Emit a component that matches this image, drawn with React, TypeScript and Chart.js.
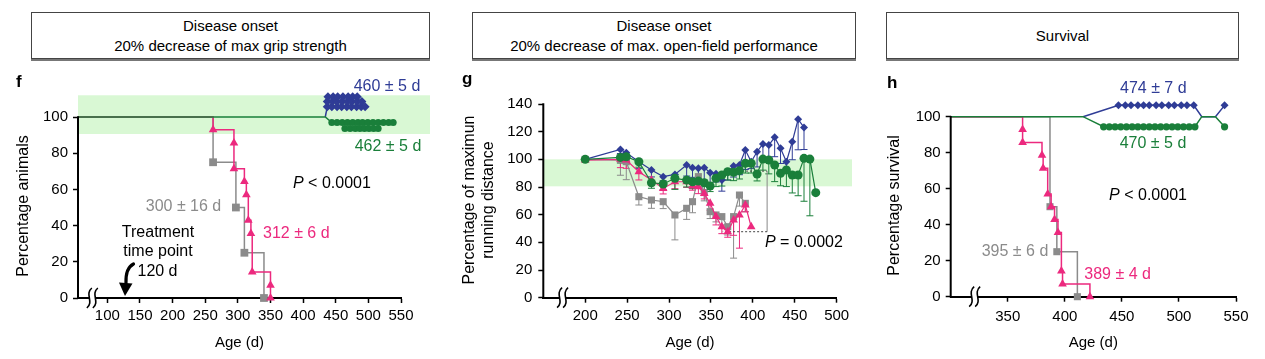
import React, { useEffect, useRef } from 'react';
import { Chart, registerables } from 'chart.js';

Chart.register(...registerables);

const FONT = "'Liberation Sans', Arial, Helvetica, sans-serif";
Chart.defaults.font.family = FONT;
Chart.defaults.font.size = 15;
Chart.defaults.color = '#000';

const BLUE = '#2f3c96';
const GREEN = '#1a7f3a';
const PINK = '#ec297e';
const GRAY = '#8b8b8b';
const BAND = '#d9f8d4';

// ---------------- Panel f : onset, grip strength ----------------
const fXTicks = [100, 150, 200, 250, 300, 350, 400, 450, 500, 550];
const fYTicks = [0, 20, 40, 60, 80, 100];
const fGrayDays = [55, 262, 297, 310, 340];
const fGrayPct = [100, 75, 50, 25, 0];
const fPinkDays = [55, 262, 294, 294, 310, 313, 316, 320, 322, 350, 350];
const fPinkPct = [100, 92.9, 85.7, 71.4, 64.3, 57.1, 42.9, 35.7, 14.3, 7.1, 0];
const fGreenLineDays = [55, 434, 444, 538];
const fGreenLinePct = [100, 100, 96.9, 96.9];
const fBlueLineDays = [434, 437];
const fBlueLinePct = [100, 105.7];
const fBlueRowTop = [438, 446, 453, 461, 469, 476, 483];
const fBlueRowMid = [437, 445, 452, 460, 468, 475, 483, 490];
const fBlueRowLow = [437, 444, 452, 459, 467, 474, 482, 489, 495];
const fBlueRowPct = [111.2, 108.5, 105.7];
const fGreenRowTop = [444, 452, 460, 468, 476, 484, 491, 499, 507, 515, 523, 531, 538];
const fGreenRowLow = [464, 472, 480, 487, 494, 501, 508, 515];
const fGreenRowPct = [96.9, 93.7];

// ---------------- Panel g : open-field performance ----------------
const gXTicks = [200, 250, 300, 350, 400, 450, 500];
const gYTicks = [0, 20, 40, 60, 80, 100, 120, 140];
const gDays = [200, 242, 249, 264, 279, 293, 307, 321, 328, 335, 342, 349, 356, 363, 370, 377, 384, 391, 398, 405, 412, 419, 426, 433, 440, 447, 454, 461, 468, 475];
const gGreen = [100, 101.4, 101.9, 98.3, 83.1, 82.2, 86.3, 85, 83.8, 84.3, 83.1, 80.7, 86.3, 88.7, 91.1, 90.6, 91.8, 97.1, 97.1, 89.4, 100.2, 99.5, 95.9, 89.9, 92.3, 88.7, 88.7, 100.7, 100.2, 75.9];
const gGreenErr = [0, 4, 5, 4, 4, 4, 8, 5, 5, 5, 5, 4, 6, 8, 6, 6, 6, 7, 7, 5, 8, 10, 12, 9, 12, 13, 15, 31, 41, 0];
const gBlue = [100, 107.2, 104.8, 98.3, 92.3, 87.5, 89.1, 95.9, 94, 93.5, 94, 90.3, 89.6, 85, 91, 95.2, 95.9, 106.7, 98.3, 105.5, 111.1, 110.3, 115.9, 108, 98.3, 112.7, 128.9, 123.1];
const gBlueErr = [0, 3, 3, 5, 5, 3, 2, 8, 7, 8, 9, 9, 6, 8, 6, 8, 7, 14, 5, 11, 11, 9, 14, 11, 8, 13, 22, 16];
const gPink = [99.5, 100, 99.5, 91.1, 85, 79, 83.8, 83.8, 80.7, 80.2, 75.4, 68.2, 58.6, 51.3, 47.7, 56.1, 59.8, 67, 51.3];
const gPinkErr = [0, 6, 6, 6, 4, 4, 5, 4, 3, 5, 4, 5, 6, 5, 4, 11, 24, 5, 0];
const gGray = [100, 99.5, 98.3, 73, 70.6, 69.4, 59.8, 64.6, 69.4, 87.5, 76, 62.2, 59.8, 58.6, 51.3, 58.6, 74.2, 68.2];
const gGrayErr = [0, 11, 13, 6, 6, 5, 18, 8, 8, 7, 6, 5, 5, 6, 6, 30, 8, 6];
const gBracketDays = [368, 417, 417, 364];
const gBracketPct = [91.5, 91.5, 47.7, 47.7];

// ---------------- Panel h : survival ----------------
const hXTicks = [350, 400, 450, 500, 550];
const hYTicks = [0, 20, 40, 60, 80, 100];
const hGrayDays = [300, 387, 393, 411];
const hGrayPct = [100, 50, 25, 0];
const hPinkDays = [300, 363, 363, 380, 381, 385, 388, 391, 394, 397, 398, 422];
const hPinkPct = [100, 92.9, 85.7, 78.6, 71.4, 57.1, 50, 42.9, 35.7, 14.3, 7.1, 0];
const hGreenLineDays = [300, 416, 434, 514, 520, 532, 540];
const hGreenLinePct = [100, 100, 94.4, 94.4, 100, 100, 94.4];
const hBlueLineDays = [416, 447, 513, 520, 532, 540];
const hBlueLinePct = [100, 106.3, 106.3, 100, 100, 106.3];
const hBlueDiamonds = [447, 453, 458, 464, 469, 474, 480, 485, 491, 496, 502, 507, 513, 540];
const hGreenDots = [434, 439, 444, 449, 454, 459, 464, 469, 474, 479, 484, 489, 494, 499, 504, 509, 514, 540];
const hRowPct = [106.3, 94.4];

type Pt = { x: number; y: number };
const pts = (xs: number[], ys: number[]): Pt[] => ys.map((y, i) => ({ x: xs[i], y }));
const row = (xs: number[], y: number): Pt[] => xs.map((x) => ({ x, y }));

function markerSet(data: Pt[], color: string, style: string, r: number) {
  return {
    data, showLine: false, clip: false, pointStyle: style, pointRadius: r,
    pointBackgroundColor: color, pointBorderColor: color, pointBorderWidth: 0,
    borderColor: color, backgroundColor: color,
  };
}
function lineSet(data: Pt[], color: string, width = 1.5) {
  return { data, showLine: true, clip: false, borderColor: color, backgroundColor: color, borderWidth: width, pointRadius: 0, fill: false };
}
function kmSet(data: Pt[], color: string, style: string, r: number) {
  return {
    data, showLine: true, stepped: true, clip: false, borderColor: color, backgroundColor: color, borderWidth: 1.5,
    pointStyle: style, pointRadius: data.map((_, i) => (i === 0 ? 0 : r)),
    pointBackgroundColor: color, pointBorderColor: color, pointBorderWidth: 0,
  };
}
function trendSet(vals: number[], errs: number[], color: string, style: string, r: number) {
  return {
    data: pts(gDays, vals), errors: errs, showLine: true, clip: false, borderColor: color, backgroundColor: color,
    borderWidth: 1.2, pointStyle: style, pointRadius: r,
    pointBackgroundColor: color, pointBorderColor: color, pointBorderWidth: 0,
  };
}

type Label = { text: string; x: number; y: number; color?: string; align?: CanvasTextAlign; size?: number; italicFirst?: boolean };
interface Decor {
  band?: { lo: number; hi: number; right: number };
  axisTop: number;
  breakAt: number;
  yTitle: { lines: string[]; xs: number[]; y: number };
  letter: { text: string; x: number; y: number };
  labels: Label[];
  arrowDay?: number;
}

function drawLabel(ctx: CanvasRenderingContext2D, l: Label) {
  const size = l.size ?? 16;
  const align = l.align ?? 'center';
  ctx.fillStyle = l.color ?? '#000';
  ctx.textBaseline = 'middle';
  if (l.italicFirst) {
    const first = l.text[0];
    const rest = l.text.slice(1);
    ctx.font = `italic ${size}px ${FONT}`;
    const w1 = ctx.measureText(first).width;
    ctx.font = `${size}px ${FONT}`;
    const w2 = ctx.measureText(rest).width;
    let x0 = l.x;
    if (align === 'center') x0 -= (w1 + w2) / 2;
    if (align === 'right') x0 -= w1 + w2;
    ctx.textAlign = 'left';
    ctx.font = `italic ${size}px ${FONT}`;
    ctx.fillText(first, x0, l.y);
    ctx.font = `${size}px ${FONT}`;
    ctx.fillText(rest, x0 + w1, l.y);
  } else {
    ctx.font = `${size}px ${FONT}`;
    ctx.textAlign = align;
    ctx.fillText(l.text, l.x, l.y);
  }
}

function drawBreak(ctx: CanvasRenderingContext2D, x: number, y: number) {
  ctx.save();
  ctx.fillStyle = '#fff';
  ctx.fillRect(x - 3, y - 3, 6, 6);
  ctx.strokeStyle = '#000';
  ctx.lineWidth = 1.6;
  for (const dx of [-3, 3]) {
    ctx.beginPath();
    ctx.moveTo(x + dx + 2.5, y - 10);
    ctx.bezierCurveTo(x + dx - 5, y - 4, x + dx + 5, y + 4, x + dx - 2.5, y + 10);
    ctx.stroke();
  }
  ctx.restore();
}

function decorPlugin(d: Decor) {
  return {
    id: 'decor',
    beforeDatasetsDraw(chart: any) {
      const { ctx, chartArea } = chart;
      const y = chart.scales.y;
      ctx.save();
      if (d.band) {
        const yt = y.getPixelForValue(d.band.hi);
        const yb = y.getPixelForValue(d.band.lo);
        ctx.fillStyle = BAND;
        ctx.fillRect(chartArea.left, yt, d.band.right - chartArea.left, yb - yt);
      }
      const sets = chart.data.datasets;
      for (let i = sets.length - 1; i >= 0; i--) {
        const ds = sets[i];
        if (!ds.errors) continue;
        const meta = chart.getDatasetMeta(i);
        ctx.strokeStyle = ds.borderColor;
        ctx.lineWidth = 1;
        meta.data.forEach((el: any, j: number) => {
          const e = ds.errors[j];
          if (!e) return;
          const y2 = y.getPixelForValue(ds.data[j].y - e);
          ctx.beginPath();
          ctx.moveTo(el.x, el.y);
          ctx.lineTo(el.x, y2);
          ctx.moveTo(el.x - 3.5, y2);
          ctx.lineTo(el.x + 3.5, y2);
          ctx.stroke();
        });
      }
      ctx.restore();
    },
    afterDraw(chart: any) {
      const { ctx, chartArea } = chart;
      const x = chart.scales.x;
      const y = chart.scales.y;
      ctx.save();
      ctx.strokeStyle = '#000';
      ctx.lineWidth = 2;
      ctx.beginPath();
      ctx.moveTo(chartArea.left, y.getPixelForValue(0) + 1);
      ctx.lineTo(chartArea.left, y.getPixelForValue(d.axisTop) - 0.75);
      ctx.stroke();
      drawBreak(ctx, x.getPixelForValue(d.breakAt), y.getPixelForValue(0));

      d.yTitle.lines.forEach((t, i) => {
        ctx.save();
        ctx.translate(d.yTitle.xs[i], d.yTitle.y);
        ctx.rotate(-Math.PI / 2);
        ctx.font = `16px ${FONT}`;
        ctx.fillStyle = '#000';
        ctx.textAlign = 'center';
        ctx.textBaseline = 'middle';
        ctx.fillText(t, 0, 0);
        ctx.restore();
      });
      ctx.font = `bold 17px ${FONT}`;
      ctx.fillStyle = '#000';
      ctx.textAlign = 'left';
      ctx.textBaseline = 'alphabetic';
      ctx.fillText(d.letter.text, d.letter.x, d.letter.y);

      d.labels.forEach((l) => drawLabel(ctx, l));

      if (d.arrowDay !== undefined) {
        const tx = x.getPixelForValue(d.arrowDay);
        ctx.strokeStyle = '#000';
        ctx.fillStyle = '#000';
        ctx.lineWidth = 3.2;
        ctx.lineCap = 'round';
        ctx.beginPath();
        ctx.moveTo(tx + 8.5, 264);
        ctx.quadraticCurveTo(tx + 0.5, 268, tx + 1, 283);
        ctx.stroke();
        ctx.beginPath();
        ctx.moveTo(tx - 6, 282.5);
        ctx.lineTo(tx + 7.5, 283.5);
        ctx.lineTo(tx, 296);
        ctx.closePath();
        ctx.fill();
      }
      ctx.restore();
    },
  };
}

interface Spec {
  width: number;
  datasets: any[];
  xMin: number; xMax: number; yMax: number;
  xTicks: number[]; yTicks: number[];
  yWidth: number; xHeight: number;
  padding: { left: number; right: number; top: number; bottom: number };
  yTickPad: number; xTickPad: number;
  decor: Decor;
}

function makeConfig(p: Spec): any {
  const grid = { display: true, drawOnChartArea: false, drawTicks: true, tickLength: 5, tickWidth: 1.5, tickColor: '#000', color: '#000' };
  return {
    type: 'scatter',
    data: { datasets: p.datasets },
    options: {
      animation: false,
      responsive: false,
      maintainAspectRatio: false,
      events: [],
      layout: { padding: p.padding },
      plugins: { legend: { display: false }, tooltip: { enabled: false }, title: { display: false } },
      scales: {
        x: {
          type: 'linear', position: 'bottom', min: p.xMin, max: p.xMax,
          afterBuildTicks: (s: any) => { s.ticks = p.xTicks.map((v) => ({ value: v })); },
          afterFit: (s: any) => { s.height = p.xHeight; },
          grid,
          border: { display: true, color: '#000', width: 2 },
          ticks: { color: '#000', font: { size: 15, family: FONT }, padding: p.xTickPad, maxRotation: 0, minRotation: 0, autoSkip: false },
          title: { display: true, text: 'Age (d)', color: '#000', font: { size: 15, family: FONT }, padding: { top: 0, bottom: 7 } },
        },
        y: {
          type: 'linear', position: 'left', min: 0, max: p.yMax,
          afterBuildTicks: (s: any) => { s.ticks = p.yTicks.map((v) => ({ value: v })); },
          afterFit: (s: any) => { s.width = p.yWidth; },
          grid,
          border: { display: false },
          ticks: { color: '#000', font: { size: 15, family: FONT }, padding: p.yTickPad, autoSkip: false },
        },
      },
    },
    plugins: [decorPlugin(p.decor)],
  };
}

const specF: Spec = {
  width: 440,
  datasets: [
    markerSet(row(fBlueRowTop, fBlueRowPct[0]), BLUE, 'rectRot', 4.5),
    markerSet(row(fBlueRowMid, fBlueRowPct[1]), BLUE, 'rectRot', 4.5),
    markerSet(row(fBlueRowLow, fBlueRowPct[2]), BLUE, 'rectRot', 4.5),
    markerSet(row(fGreenRowTop, fGreenRowPct[0]), GREEN, 'circle', 3.5),
    markerSet(row(fGreenRowLow, fGreenRowPct[1]), GREEN, 'circle', 3.5),
    lineSet(pts(fGreenLineDays, fGreenLinePct), GREEN),
    lineSet(pts(fBlueLineDays, fBlueLinePct), BLUE),
    kmSet(pts(fPinkDays, fPinkPct), PINK, 'triangle', 5),
    kmSet(pts(fGrayDays, fGrayPct), GRAY, 'rect', 5.5),
  ],
  xMin: 55, xMax: 550, yMax: 115,
  xTicks: fXTicks, yTicks: fYTicks,
  yWidth: 78, xHeight: 61,
  padding: { left: 0, right: 39, top: 89.85, bottom: 0 },
  yTickPad: 5, xTickPad: 4,
  decor: {
    band: { lo: 90.6, hi: 112, right: 430 },
    axisTop: 100,
    breakAt: 77,
    yTitle: { lines: ['Percentage animals'], xs: [24], y: 206 },
    letter: { text: 'f', x: 16, y: 87 },
    arrowDay: 127,
    labels: [
      { text: '460 ± 5 d', x: 387, y: 87, color: BLUE },
      { text: '462 ± 5 d', x: 388, y: 147, color: GREEN },
      { text: 'P < 0.0001', x: 293, y: 184, align: 'left', italicFirst: true },
      { text: '300 ± 16 d', x: 183.5, y: 207, color: GRAY },
      { text: '312 ± 6 d', x: 263, y: 234, color: PINK, align: 'left' },
      { text: 'Treatment', x: 158, y: 233 },
      { text: 'time point', x: 158, y: 252 },
      { text: '120 d', x: 157.5, y: 272 },
    ],
  },
};

const specG: Spec = {
  width: 420,
  datasets: [
    trendSet(gGreen, gGreenErr, GREEN, 'circle', 4.5),
    trendSet(gBlue, gBlueErr, BLUE, 'rectRot', 4),
    trendSet(gPink, gPinkErr, PINK, 'triangle', 5),
    trendSet(gGray, gGrayErr, GRAY, 'rect', 5),
    {
      data: pts(gBracketDays, gBracketPct), showLine: true, clip: false, borderColor: '#555', borderWidth: 1,
      pointRadius: 0, borderDash: [2, 2],
      segment: {
        borderDash: (c: any) => (c.p0DataIndex === 1 ? [] : [2, 2]),
        borderColor: (c: any) => (c.p0DataIndex === 1 ? '#888' : '#444'),
      },
    },
  ],
  xMin: 150, xMax: 500, yMax: 140,
  xTicks: gXTicks, yTicks: gYTicks,
  yWidth: 103.3, xHeight: 61.3,
  padding: { left: 0, right: 23.3, top: 104, bottom: 0 },
  yTickPad: 6, xTickPad: 4,
  decor: {
    band: { lo: 80.5, hi: 100, right: 412 },
    axisTop: 140,
    breakAt: 173,
    yTitle: { lines: ['Percentage of maximun', 'running distance'], xs: [30, 49], y: 200 },
    letter: { text: 'g', x: 22, y: 84 },
    labels: [{ text: 'P = 0.0002', x: 325, y: 243, align: 'left', italicFirst: true }],
  },
};

const specH: Spec = {
  width: 405,
  datasets: [
    markerSet(row(hBlueDiamonds, hRowPct[0]), BLUE, 'rectRot', 4),
    markerSet(row(hGreenDots, hRowPct[1]), GREEN, 'circle', 3.6),
    lineSet(pts(hGreenLineDays, hGreenLinePct), GREEN),
    lineSet(pts(hBlueLineDays, hBlueLinePct), BLUE),
    kmSet(pts(hPinkDays, hPinkPct), PINK, 'triangle', 5),
    kmSet(pts(hGrayDays, hGrayPct), GRAY, 'rect', 5),
  ],
  xMin: 300, xMax: 550, yMax: 115,
  xTicks: hXTicks, yTicks: hYTicks,
  yWidth: 90.7, xHeight: 62.3,
  padding: { left: 0, right: 29, top: 89.7, bottom: 0 },
  yTickPad: 5, xTickPad: 6,
  decor: {
    axisTop: 100,
    breakAt: 321,
    yTitle: { lines: ['Percentage survival'], xs: [35], y: 205.5 },
    letter: { text: 'h', x: 27, y: 88 },
    labels: [
      { text: '474 ± 7 d', x: 293.3, y: 88.3, color: BLUE },
      { text: '470 ± 5 d', x: 293, y: 143.3, color: GREEN },
      { text: 'P < 0.0001', x: 288, y: 196, italicFirst: true },
      { text: '395 ± 6 d', x: 188.3, y: 251.7, color: GRAY, align: 'right' },
      { text: '389 ± 4 d', x: 224.3, y: 275, color: PINK, align: 'left' },
    ],
  },
};

function Panel({ left, spec }: { left: number; spec: Spec }) {
  const ref = useRef<HTMLCanvasElement>(null);
  useEffect(() => {
    if (!ref.current) return;
    const chart = new Chart(ref.current, makeConfig(spec));
    return () => chart.destroy();
  }, [spec]);
  return (
    <canvas
      ref={ref}
      width={spec.width}
      height={359}
      style={{ position: 'absolute', left, top: 0, width: spec.width, height: 359 }}
    />
  );
}

function Header({ left, width, lines }: { left: number; width: number; lines: string[] }) {
  return (
    <div
      style={{
        position: 'absolute', left, top: 12, width, height: 47, boxSizing: 'border-box',
        border: '1px solid #444', boxShadow: '0 2px 0 #777', background: '#fff',
        display: 'flex', flexDirection: 'column', justifyContent: 'center', alignItems: 'center',
        fontFamily: FONT, fontSize: 15, lineHeight: '20px', color: '#000',
      }}
    >
      {lines.map((t) => (
        <div key={t}>{t}</div>
      ))}
    </div>
  );
}

export default function App() {
  return (
    <div style={{ position: 'absolute', left: 0, top: 0, width: 1265, height: 359, background: '#fff', overflow: 'hidden' }}>
      <Header left={31} width={399} lines={['Disease onset', '20% decrease of max grip strength']} />
      <Header left={472} width={384} lines={['Disease onset', '20% decrease of max. open-field performance']} />
      <Header left={886} width={353} lines={['Survival']} />
      <Panel left={0} spec={specF} />
      <Panel left={440} spec={specG} />
      <Panel left={860} spec={specH} />
    </div>
  );
}
